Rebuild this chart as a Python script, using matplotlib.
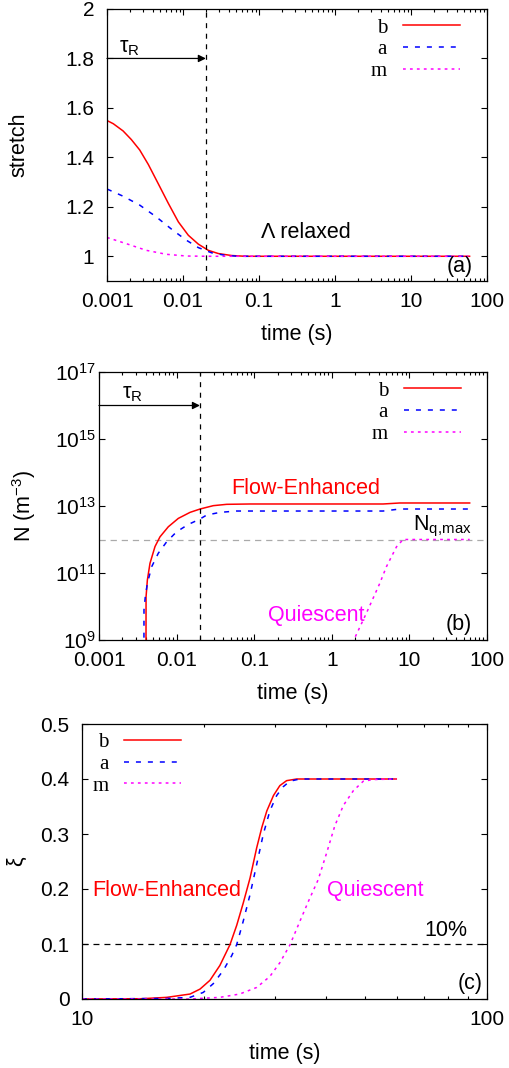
import numpy as np
import matplotlib
matplotlib.use("Agg")
import matplotlib.pyplot as plt
from matplotlib.ticker import FixedLocator, FixedFormatter, NullFormatter, NullLocator, LogFormatterMathtext

plt.rcParams['font.family'] = ['Liberation Sans', 'DejaVu Sans']
plt.rcParams['mathtext.fontset'] = 'custom'
plt.rcParams['mathtext.rm'] = 'Liberation Sans'
plt.rcParams['mathtext.it'] = 'Liberation Sans:italic'
plt.rcParams['mathtext.default'] = 'regular'
plt.rcParams['lines.scale_dashes'] = False

RED, BLUE, MAG = '#ff0000', '#0000ff', '#ff00ff'
series_names = ['b', 'a', 'm']

# ---- (a) stretch relaxation ----
t_stretch_b = [0.001, 0.00121, 0.001626, 0.00209, 0.002692, 0.0035, 0.004732, 0.006412, 0.00869,
               0.01175, 0.01592, 0.02153, 0.02917, 0.04365, 0.06607, 0.1, 1, 10, 59]
stretch_b = [1.549, 1.536, 1.507, 1.472, 1.430, 1.371, 1.293, 1.214, 1.139,
             1.085, 1.049, 1.024, 1.011, 1.003, 1.0, 1.0, 1.0, 1.0, 1.0]
t_stretch_a = [0.001, 0.001626, 0.002692, 0.004457, 0.007379, 0.01107, 0.01592, 0.02382, 0.03573,
               0.05346, 0.1, 1, 10, 59]
stretch_a = [1.272, 1.243, 1.207, 1.159, 1.105, 1.065, 1.035, 1.014, 1.004,
             1.0, 1.0, 1.0, 1.0, 1.0]
t_stretch_m = [0.001, 0.001795, 0.003296, 0.006039, 0.01107, 0.02, 0.1, 1, 10, 59]
stretch_m = [1.076, 1.051, 1.024, 1.008, 1.001, 1.0, 1.0, 1.0, 1.0, 1.0]

# ---- (b) nuclei number density (log10 of N) ----
t_N_b = [0.00403, 0.00404, 0.0042, 0.00454, 0.00527, 0.00611, 0.00782, 0.01052, 0.0149, 0.02005,
         0.0297, 0.0442, 0.0884, 4.58, 7.51, 59.8]
logN_b = [8.0, 10.29, 10.79, 11.29, 11.79, 12.08, 12.38, 12.63, 12.81, 12.91,
          13.01, 13.05, 13.06, 13.06, 13.09, 13.09]
t_N_a = [0.00379, 0.0038, 0.00395, 0.0042, 0.00478, 0.00581, 0.00744, 0.0100, 0.01415, 0.01963,
         0.0244, 0.0363, 0.0594, 0.0884, 4.58, 7.51, 59.8]
logN_a = [8.0, 9.9, 10.29, 10.69, 11.19, 11.59, 11.93, 12.23, 12.45, 12.60,
          12.73, 12.81, 12.85, 12.85, 12.85, 12.91, 12.91]
t_N_m = [1.80, 1.92, 2.79, 4.15, 5.06, 6.81, 8.30, 59.8]
logN_m = [8.7, 9.0, 9.80, 10.69, 11.19, 11.78, 12.0, 12.0]
N_q_max = 1e12

# ---- (c) crystallinity ----
t_xi_b = [10, 14.0, 16.2, 18.48, 19.56, 20.7, 21.9, 23.2, 24.1, 25.0, 26.0, 27.0, 27.8, 28.6, 29.7,
          30.8, 32.0, 33.9, 59.7]
xi_b = [0.0, 0.0005, 0.003, 0.009, 0.018, 0.034, 0.061, 0.099, 0.134, 0.174, 0.220, 0.275, 0.312,
        0.342, 0.370, 0.388, 0.397, 0.4, 0.4]
t_xi_a = [10, 16.2, 18.48, 19.93, 21.1, 22.33, 23.43, 24.1, 25.0, 26.0, 27.0, 28.04, 29.1, 30.25,
          31.4, 32.6, 34.5, 59.7]
xi_a = [0.0, 0.001, 0.003, 0.012, 0.028, 0.052, 0.079, 0.099, 0.141, 0.190, 0.245, 0.300, 0.342,
        0.370, 0.386, 0.396, 0.4, 0.4]
t_xi_m = [10, 18.48, 21.9, 24.5, 27.0, 29.1, 30.8, 32.6, 34.5, 36.2, 38.3, 40.2, 42.1, 44.2,
          46.8, 49.5, 52.4, 59.7]
xi_m = [0.0, 0.0, 0.003, 0.009, 0.021, 0.041, 0.066, 0.098, 0.141, 0.177, 0.217, 0.266, 0.315, 0.352,
        0.379, 0.396, 0.399, 0.4]

tau_R = 0.02
xi_threshold = 0.1

x_decades = [1e-3, 1e-2, 1e-1, 1, 10, 100]
x_decade_labels = ['0.001', '0.01', '0.1', '1', '10', '100']

styles = [dict(color=RED, lw=1.1, ls='-'),
          dict(color=BLUE, lw=1.1, ls=(0, (3.6, 5.0))),
          dict(color=MAG, lw=1.1, ls=(0, (2.0, 3.0)))]

TICK_FS = 15
LABEL_FS = 15.5
ANN_FS = 15.5


def style_axes(ax):
    for s in ax.spines.values():
        s.set_linewidth(0.9)
    ax.tick_params(which='both', direction='in', top=True, right=True,
                   labelsize=TICK_FS, width=0.8)
    ax.tick_params(which='major', length=4)
    ax.tick_params(which='minor', length=2.4)
    ax.tick_params(axis='x', pad=8)


def log_time_axis(ax, lo, hi, ticks, labels):
    ax.set_xscale('log')
    ax.set_xlim(lo, hi)
    ax.xaxis.set_major_locator(FixedLocator(ticks))
    ax.xaxis.set_major_formatter(FixedFormatter(labels))
    minors = [m * d for d in ticks[:-1] for m in range(2, 10)]
    ax.xaxis.set_minor_locator(FixedLocator(minors))
    ax.xaxis.set_minor_formatter(NullFormatter())


def add_legend(ax, lines, anchor, loc):
    ax.legend(lines, series_names, loc=loc, bbox_to_anchor=anchor,
              frameon=False, markerfirst=False, borderpad=0, borderaxespad=0,
              handlelength=2.75, handletextpad=0.75, labelspacing=0.1,
              prop={'family': 'Liberation Serif', 'size': 15})


fig = plt.figure(figsize=(5.1, 10.68), dpi=100)
ax_a = fig.add_axes([107 / 510, 1 - 281 / 1068, 380 / 510, 272 / 1068])
ax_b = fig.add_axes([99 / 510, 1 - 640 / 1068, 388 / 510, 268 / 1068])
ax_c = fig.add_axes([82 / 510, 1 - 999 / 1068, 405 / 510, 275 / 1068])

# (a)
la = []
for (t, v), st in zip([(t_stretch_b, stretch_b), (t_stretch_a, stretch_a), (t_stretch_m, stretch_m)], styles):
    la += ax_a.plot(t, v, **st)
style_axes(ax_a)
log_time_axis(ax_a, 1e-3, 1e2, x_decades, x_decade_labels)
ax_a.set_ylim(0.9, 2.0)
ax_a.set_yticks([1.0, 1.2, 1.4, 1.6, 1.8, 2.0])
ax_a.set_yticklabels(['1', '1.2', '1.4', '1.6', '1.8', '2'])
ax_a.tick_params(axis='y', pad=9)
ax_a.axvline(tau_R, color='k', lw=0.9, ls=(0, (3.6, 4.0)))
ax_a.annotate('', xy=(tau_R, 1.8), xytext=(1e-3, 1.8),
              arrowprops=dict(arrowstyle='-|>', color='k', lw=0.9, mutation_scale=11,
                              shrinkA=0, shrinkB=0))
ax_a.text(0.00145, 1.803, 'τ$_{R}$', fontsize=ANN_FS, ha='left', va='bottom')
ax_a.text(0.415, 1.097, 'Λ relaxed', fontsize=ANN_FS, ha='center', va='center')
ax_a.text(0.963, 0.055, '(a)', transform=ax_a.transAxes, fontsize=ANN_FS, ha='right', va='center')
ax_a.set_xlabel('time (s)', fontsize=LABEL_FS, va='top')
ax_a.set_ylabel('stretch', fontsize=LABEL_FS)
ax_a.xaxis.set_label_coords(0.5, -0.158)
ax_a.yaxis.set_label_coords(-0.205, 0.5)
add_legend(ax_a, la, (0.929, 0.967), 'upper right')

# (b)
lb = []
for (t, v), st in zip([(t_N_b, logN_b), (t_N_a, logN_a), (t_N_m, logN_m)], styles):
    lb += ax_b.plot(t, 10.0 ** np.array(v), **st)
style_axes(ax_b)
log_time_axis(ax_b, 1e-3, 1e2, x_decades, x_decade_labels)
ax_b.set_yscale('log')
ax_b.set_ylim(1e9, 1e17)
ax_b.yaxis.set_major_locator(FixedLocator([1e9, 1e11, 1e13, 1e15, 1e17]))
ax_b.yaxis.set_major_formatter(LogFormatterMathtext())
ax_b.yaxis.set_minor_locator(NullLocator())
ax_b.tick_params(axis='y', pad=2)
ax_b.axhline(N_q_max, color='#aaaaaa', lw=0.9, ls=(0, (4.5, 3.5)), zorder=1)
ax_b.axvline(tau_R, color='k', lw=0.9, ls=(0, (3.6, 4.0)))
ax_b.annotate('', xy=(tau_R, 1e16), xytext=(1e-3, 1e16),
              arrowprops=dict(arrowstyle='-|>', color='k', lw=0.9, mutation_scale=11,
                              shrinkA=0, shrinkB=0))
ax_b.text(0.00196, 10 ** 16.05, 'τ$_{R}$', fontsize=ANN_FS, ha='left', va='bottom')
ax_b.text(0.466, 10 ** 13.51, 'Flow-Enhanced', color=RED, fontsize=ANN_FS, ha='center', va='center')
ax_b.text(0.625, 10 ** 9.72, 'Quiescent', color=MAG, fontsize=ANN_FS, ha='center', va='center')
ax_b.text(0.961, 10 ** 12.40, r'N$_{q,\!max}$', transform=ax_b.get_yaxis_transform(), fontsize=ANN_FS,
          ha='right', va='center')
ax_b.text(0.961, 0.056, '(b)', transform=ax_b.transAxes, fontsize=ANN_FS, ha='right', va='center')
ax_b.set_xlabel('time (s)', fontsize=LABEL_FS, va='top')
ax_b.set_ylabel('N (m$^{-3}$)', fontsize=LABEL_FS)
ax_b.xaxis.set_label_coords(0.5, -0.160)
ax_b.yaxis.set_label_coords(-0.157, 0.5)
add_legend(ax_b, lb, (0.933, 0.966), 'upper right')

# (c)
lc = []
for (t, v), st in zip([(t_xi_b, xi_b), (t_xi_a, xi_a), (t_xi_m, xi_m)], styles):
    lc += ax_c.plot(t, v, **st)
style_axes(ax_c)
log_time_axis(ax_c, 10, 100, [10, 100], ['10', '100'])
ax_c.set_ylim(0, 0.5)
ax_c.set_yticks([0, 0.1, 0.2, 0.3, 0.4, 0.5])
ax_c.set_yticklabels(['0', '0.1', '0.2', '0.3', '0.4', '0.5'])
ax_c.tick_params(axis='y', pad=9)
ax_c.axhline(xi_threshold, color='k', lw=0.9, ls=(0, (4.3, 3.6)), zorder=1)
ax_c.text(16.2, 0.198, 'Flow-Enhanced', color=RED, fontsize=ANN_FS, ha='center', va='center')
ax_c.text(52.9, 0.198, 'Quiescent', color=MAG, fontsize=ANN_FS, ha='center', va='center')
ax_c.text(79.3, 0.124, '10%', fontsize=ANN_FS, ha='center', va='center')
ax_c.text(0.990, 0.058, '(c)', transform=ax_c.transAxes, fontsize=ANN_FS, ha='right', va='center')
ax_c.set_xlabel('time (s)', fontsize=LABEL_FS, va='top')
ax_c.set_ylabel('ξ', fontsize=LABEL_FS)
ax_c.xaxis.set_label_coords(0.5, -0.160)
ax_c.yaxis.set_label_coords(-0.135, 0.5)
add_legend(ax_c, lc, (0.025, 0.968), 'upper left')

fig.savefig('out.png', dpi=100)
